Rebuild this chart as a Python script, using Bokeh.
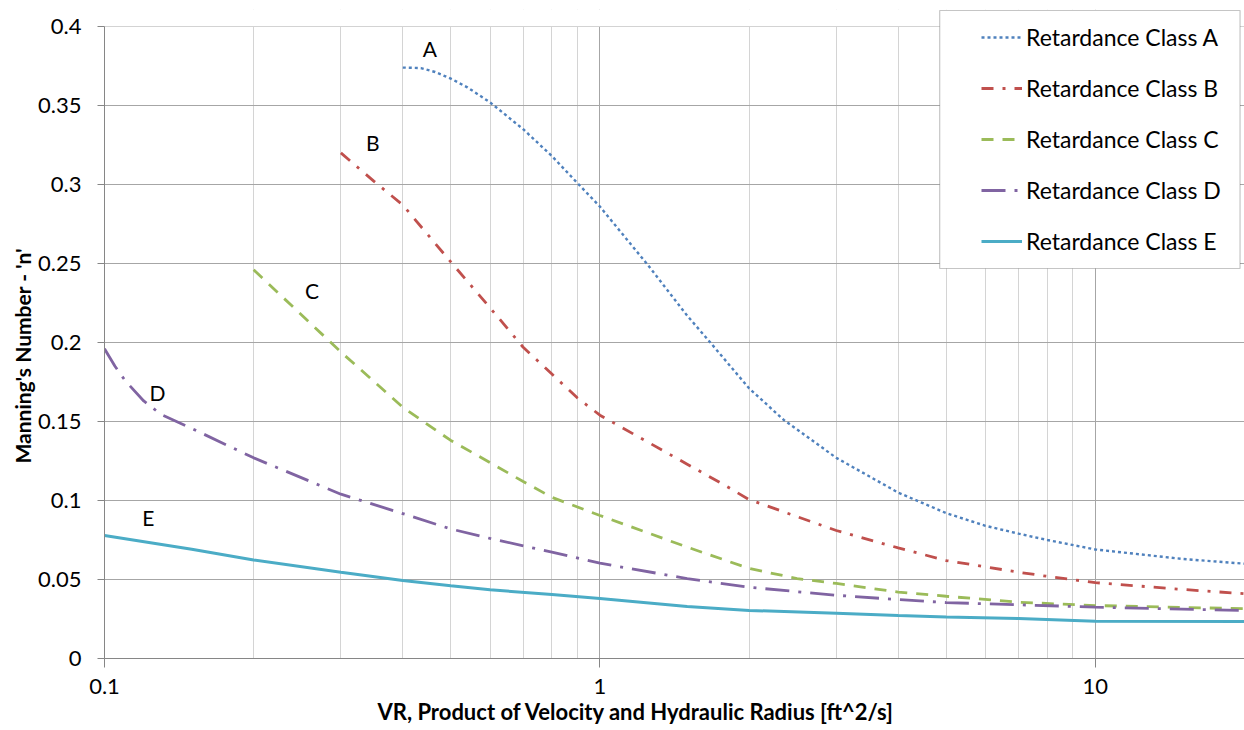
import math
from bokeh.plotting import figure
from bokeh.models import (Range1d, FixedTicker, CustomJSTickFormatter, Legend, LegendItem,
                          ColumnDataSource, BoxAnnotation, Title)
from bokeh.core.properties import value
from bokeh.embed import file_html
from bokeh.resources import INLINE

# ---- data ----
x_ticks = [0.1, 1, 10]
x_minor_ticks = [0.2, 0.3, 0.4, 0.5, 0.6, 0.7, 0.8, 0.9, 2, 3, 4, 5, 6, 7, 8, 9, 20]
y_ticks = [0, 0.05, 0.1, 0.15, 0.2, 0.25, 0.3, 0.35, 0.4]

series_names = ["Retardance Class A", "Retardance Class B", "Retardance Class C",
                "Retardance Class D", "Retardance Class E"]

a_x = [0.4, 0.435, 0.465, 0.5, 0.54, 0.6, 0.7, 0.8, 0.9, 1.0, 1.25, 1.5, 1.66, 2.0, 2.35, 3.0, 4.0, 5.0, 6.0, 7.0, 8.0, 10.0, 15.0, 20.0]
a_y = [0.374, 0.3737, 0.3712, 0.367, 0.3615, 0.352, 0.335, 0.318, 0.301, 0.286, 0.249, 0.217, 0.201, 0.171, 0.151, 0.127, 0.105, 0.092, 0.084, 0.079, 0.075, 0.069, 0.063, 0.060]

b_x = [0.3, 0.35, 0.4, 0.5, 0.6, 0.7, 0.8, 0.9, 1.0, 1.5, 1.79, 2.0, 3.0, 4.0, 5.0, 6.0, 7.0, 8.0, 10.0, 15.0, 20.0]
b_y = [0.320, 0.302, 0.287, 0.251, 0.222, 0.197, 0.180, 0.165, 0.154, 0.123, 0.1095, 0.1006, 0.081, 0.070, 0.062, 0.058, 0.0546, 0.052, 0.048, 0.0437, 0.041]

c_x = [0.2, 0.3, 0.4, 0.5, 0.6, 0.7, 0.8, 1.0, 1.5, 2.0, 2.5, 3.0, 4.0, 5.0, 7.0, 10.0, 20.0]
c_y = [0.246, 0.194, 0.159, 0.138, 0.124, 0.112, 0.102, 0.0905, 0.0705, 0.057, 0.0506, 0.0475, 0.042, 0.0394, 0.0356, 0.0335, 0.0315]

d_x = [0.1, 0.105, 0.11, 0.12, 0.13, 0.15, 0.2, 0.3, 0.4, 0.5, 0.6, 0.8, 1.0, 1.5, 2.0, 3.0, 4.0, 5.0, 7.0, 10.0, 20.0]
d_y = [0.196, 0.185, 0.176, 0.163, 0.1545, 0.1456, 0.127, 0.104, 0.0917, 0.082, 0.076, 0.0673, 0.0603, 0.0506, 0.0451, 0.040, 0.0373, 0.0354, 0.034, 0.0325, 0.0304]

e_x = [0.1, 0.15, 0.2, 0.3, 0.4, 0.5, 0.6, 0.8, 1.0, 1.5, 2.0, 3.0, 4.0, 5.0, 7.0, 10.0, 20.0]
e_y = [0.0778, 0.0692, 0.0624, 0.0546, 0.0494, 0.046, 0.0435, 0.0405, 0.038, 0.0329, 0.0304, 0.0287, 0.0272, 0.0262, 0.0253, 0.0236, 0.0234]

curve_labels = ["A", "B", "C", "D", "E"]
curve_label_x = [0.4535, 0.348, 0.2624, 0.1279, 0.1226]
curve_label_y = [0.386, 0.3266, 0.2329, 0.1684, 0.0892]

x_title = "VR, Product of Velocity and Hydraulic Radius [ft^2/s]"
y_title = "Manning's Number - 'n'"

# ---- layout geometry (pixels) ----
W, H = 1244, 730
FRAME_L, FRAME_B = 104, 658          # frame left / bottom in canvas px
AXIS_TOP = 26                         # pixel row of y = 0.4
FRAME_T = 9                           # frame extended up so the legend fits
Y_MIN, Y_MAX = 0.0, 0.4
X_MIN, X_MAX = 0.1, 20.0
PX_PER_Y = (FRAME_B - AXIS_TOP) / (Y_MAX - Y_MIN)
PX_PER_DEC = 496.5
y_top_range = Y_MAX + (AXIS_TOP - FRAME_T) / PX_PER_Y


def px_to_x(px):
    return 10 ** ((px - FRAME_L) / PX_PER_DEC + math.log10(X_MIN))


def px_to_y(py):
    return (FRAME_B - py) / PX_PER_Y


FONT = "Lato"
p = figure(width=W, height=H, x_axis_type="log",
           x_range=Range1d(X_MIN, X_MAX), y_range=Range1d(Y_MIN, y_top_range),
           output_backend="svg", toolbar_location=None,
           min_border_left=FRAME_L, min_border_right=0, min_border_top=FRAME_T,
           min_border_bottom=H - FRAME_B)
p.outline_line_color = None
p.background_fill_color = "white"
p.border_fill_color = "white"

# axes
p.xaxis.ticker = FixedTicker(ticks=x_ticks, minor_ticks=x_minor_ticks)
p.xaxis.formatter = CustomJSTickFormatter(code="return String(tick);")
p.yaxis.ticker = FixedTicker(ticks=y_ticks)
p.yaxis.formatter = CustomJSTickFormatter(code="return String(Math.round(tick*100)/100);")
p.yaxis.bounds = (Y_MIN, Y_MAX)

for ax in (p.xaxis[0], p.yaxis[0]):
    ax.axis_line_color = "#868686"
    ax.major_tick_line_color = "#868686"
    ax.minor_tick_line_color = None
    ax.major_tick_in = 0
    ax.major_label_text_font = FONT
    ax.major_label_text_font_size = "22px"
    ax.major_label_text_color = "black"

p.xaxis.major_tick_out = 9
p.xaxis.major_label_standoff = 11
p.yaxis.major_tick_out = 7
p.yaxis.major_label_standoff = 16

xt = Title(text=x_title, align="left", offset=273, standoff=0,
           text_font=FONT, text_font_style="bold", text_font_size="22px",
           text_color="black", vertical_align="middle")
p.add_layout(xt, "below")
yt = Title(text=y_title, align="left", offset=FRAME_B - 463, standoff=0,
           text_font=FONT, text_font_style="bold", text_font_size="21px",
           text_color="black", vertical_align="middle")
p.add_layout(yt, "left")

p.xgrid.ticker = p.xaxis.ticker
p.xgrid.grid_line_color = "#a6a6a6"
p.xgrid.minor_grid_line_color = "#d4d4d4"
p.ygrid.grid_line_color = "#a6a6a6"

# white mask above the top of the value axis (grid lines stop at 0.4)
p.add_layout(BoxAnnotation(bottom=Y_MAX, fill_color="white", fill_alpha=1,
                           line_color=None, level="underlay"))

# curves
ra = p.line(a_x, a_y, line_color="#4F81BD", line_width=2.4, line_dash="3 3")
rb = p.line(b_x, b_y, line_color="#C0504D", line_width=2.8, line_dash="12 9 3 9")
rc = p.line(c_x, c_y, line_color="#9BBB59", line_width=2.8, line_dash="12 9")
rd = p.line(d_x, d_y, line_color="#8064A2", line_width=2.8, line_dash="24 9 3 9")
re_ = p.line(e_x, e_y, line_color="#4BACC6", line_width=3)

src = ColumnDataSource(dict(x=curve_label_x, y=curve_label_y, t=curve_labels))
p.text(x="x", y="y", text="t", source=src, text_font=value(FONT), text_font_size="21px",
       text_align="center", text_baseline="middle", text_color="black")

# legend frame
p.add_layout(BoxAnnotation(left=px_to_x(941), right=px_to_x(1242),
                           top=px_to_y(10), bottom=px_to_y(268),
                           fill_color="white", fill_alpha=1,
                           line_color="#404040", line_width=1.2, level="annotation"))

LEG_PAD = 10
ITEM_H = 28
ITEM_GAP = 51 - ITEM_H
leg_top = 37 - ITEM_H / 2 - LEG_PAD
leg_h = 2 * LEG_PAD + 5 * ITEM_H + 4 * ITEM_GAP
legend = Legend(items=[LegendItem(label=n, renderers=[r]) for n, r in
                       zip(series_names, [ra, rb, rc, rd, re_])],
                location=(981 - LEG_PAD - FRAME_L, FRAME_B - (leg_top + leg_h)))
legend.label_text_font = FONT
legend.label_text_font_size = "23px"
legend.label_text_color = "black"
legend.glyph_width = 41
legend.glyph_height = ITEM_H
legend.label_height = ITEM_H
legend.label_standoff = 4
legend.spacing = ITEM_GAP
legend.padding = LEG_PAD
legend.margin = 0
legend.border_line_alpha = 0
legend.background_fill_alpha = 0
p.add_layout(legend)

open("out.html", "w").write(file_html(p, INLINE))
